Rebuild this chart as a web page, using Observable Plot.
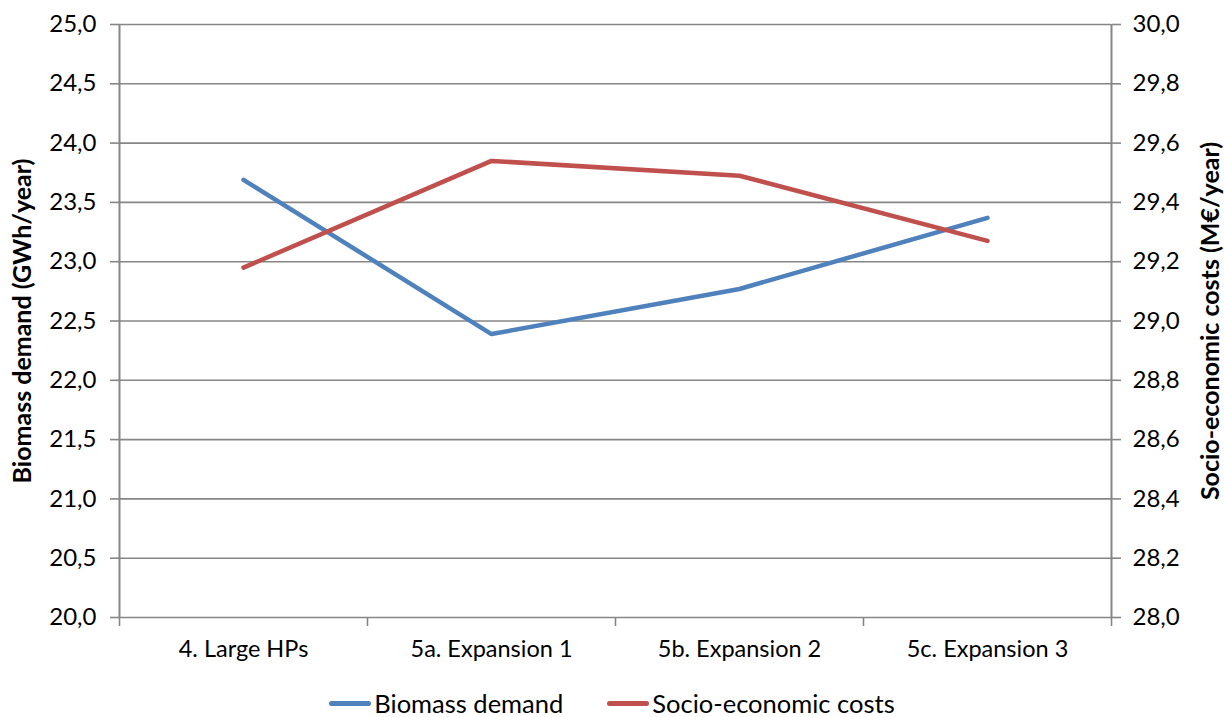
<!DOCTYPE html>
<html>
<head>
<meta charset="utf-8">
<script src="https://cdn.jsdelivr.net/npm/d3@7"></script>
<script src="https://cdn.jsdelivr.net/npm/@observablehq/plot@0.6"></script>
<style>
  body { margin: 0; background: #fff; font-family: Lato, "Open Sans", sans-serif; overflow: hidden; }
  #legend { display: flex; justify-content: center; align-items: center; box-sizing: border-box; height: 37px; padding-top: 9px; font-size: 25.5px; line-height: 26px; color: #000; }
  .item { display: flex; align-items: center; margin: 0 22px; }
  .sw { width: 42px; height: 5px; border-radius: 3px; margin-right: 3px; }
</style>
</head>
<body>
<div id="chart"></div>
<div id="legend"></div>
<script>
const categories = ["4. Large HPs", "5a. Expansion 1", "5b. Expansion 2", "5c. Expansion 3"];
const biomass = [23.69, 22.39, 22.77, 23.37];          // GWh/year (left axis)
const costs = [29.18, 29.54, 29.49, 29.27];            // M€/year (right axis)
const leftTicks = [20, 20.5, 21, 21.5, 22, 22.5, 23, 23.5, 24, 24.5, 25];
const seriesNames = ["Biomass demand", "Socio-economic costs"];
const colors = ["#4F81BD", "#C0504D"];

// right axis 28–30 maps onto left 20–25
const toLeft = c => 20 + (c - 28) / 0.4;
const toRight = l => 28 + (l - 20) * 0.4;
const fmt = v => v.toFixed(1).replace(".", ",");

const rows = [];
categories.forEach((c, i) => {
  rows.push({series: seriesNames[0], i: i + 0.5, v: biomass[i]});
  rows.push({series: seriesNames[1], i: i + 0.5, v: toLeft(costs[i])});
});
const centers = categories.map((c, i) => i + 0.5);
const edges = d3.range(categories.length + 1);

const axisColor = "#868686";
const chart = Plot.plot({
  width: 1224,
  height: 680,
  marginLeft: 119,
  marginRight: 113,
  marginTop: 24,
  marginBottom: 63,
  style: {fontFamily: "Lato, 'Open Sans', sans-serif", fontSize: "20px", color: "#000", background: "#fff"},
  x: {domain: [0, categories.length], axis: null},
  y: {domain: [20, 25], axis: null},
  color: {domain: seriesNames, range: colors},
  marks: [
    Plot.ruleY(leftTicks, {stroke: axisColor, strokeWidth: 1.6, strokeOpacity: 1}),
    Plot.ruleX([0], {stroke: axisColor, strokeWidth: 2}),
    Plot.ruleX([categories.length], {stroke: axisColor, strokeWidth: 2}),
    // left axis
    Plot.axisY({anchor: "left", ticks: leftTicks, tickFormat: fmt, tickSize: 9, tickPadding: 14, stroke: axisColor, strokeWidth: 1.6, strokeOpacity: 1, fontSize: 24, label: null}),
    // right axis (costs)
    Plot.axisY({anchor: "right", ticks: leftTicks, tickFormat: d => fmt(toRight(d)), tickSize: 9, tickPadding: 12, stroke: axisColor, strokeWidth: 1.6, strokeOpacity: 1, fontSize: 24, label: null}),
    // x tick marks at band edges
    Plot.axisX({anchor: "bottom", ticks: edges, tickFormat: () => "", tickSize: 9, stroke: axisColor, strokeWidth: 1.6, strokeOpacity: 1, label: null}),
    // x category labels
    Plot.axisX({anchor: "bottom", ticks: centers, tickFormat: d => categories[Math.round(d - 0.5)], tickSize: 0, tickPadding: 23, fontSize: 23.5, label: null}),
    // axis titles
    Plot.text(["Biomass demand (GWh/year)"], {frameAnchor: "left", dx: -97, rotate: -90, textAnchor: "middle", fontWeight: "bold", fontSize: 25, fill: "#000"}),
    Plot.text(["Socio-economic costs (M€/year)"], {frameAnchor: "right", dx: 99, rotate: -90, textAnchor: "middle", fontWeight: "bold", fontSize: 25, fill: "#000"}),
    Plot.line(rows, {x: "i", y: "v", z: "series", stroke: "series", strokeWidth: 4.5, strokeLinecap: "round", strokeLinejoin: "round"})
  ]
});
document.getElementById("chart").appendChild(chart);

const legend = document.getElementById("legend");
seriesNames.forEach((s, k) => {
  const it = document.createElement("div");
  it.className = "item";
  it.innerHTML = `<div class="sw" style="background:${colors[k]}"></div><span>${s}</span>`;
  legend.appendChild(it);
});
</script>
</body>
</html>
